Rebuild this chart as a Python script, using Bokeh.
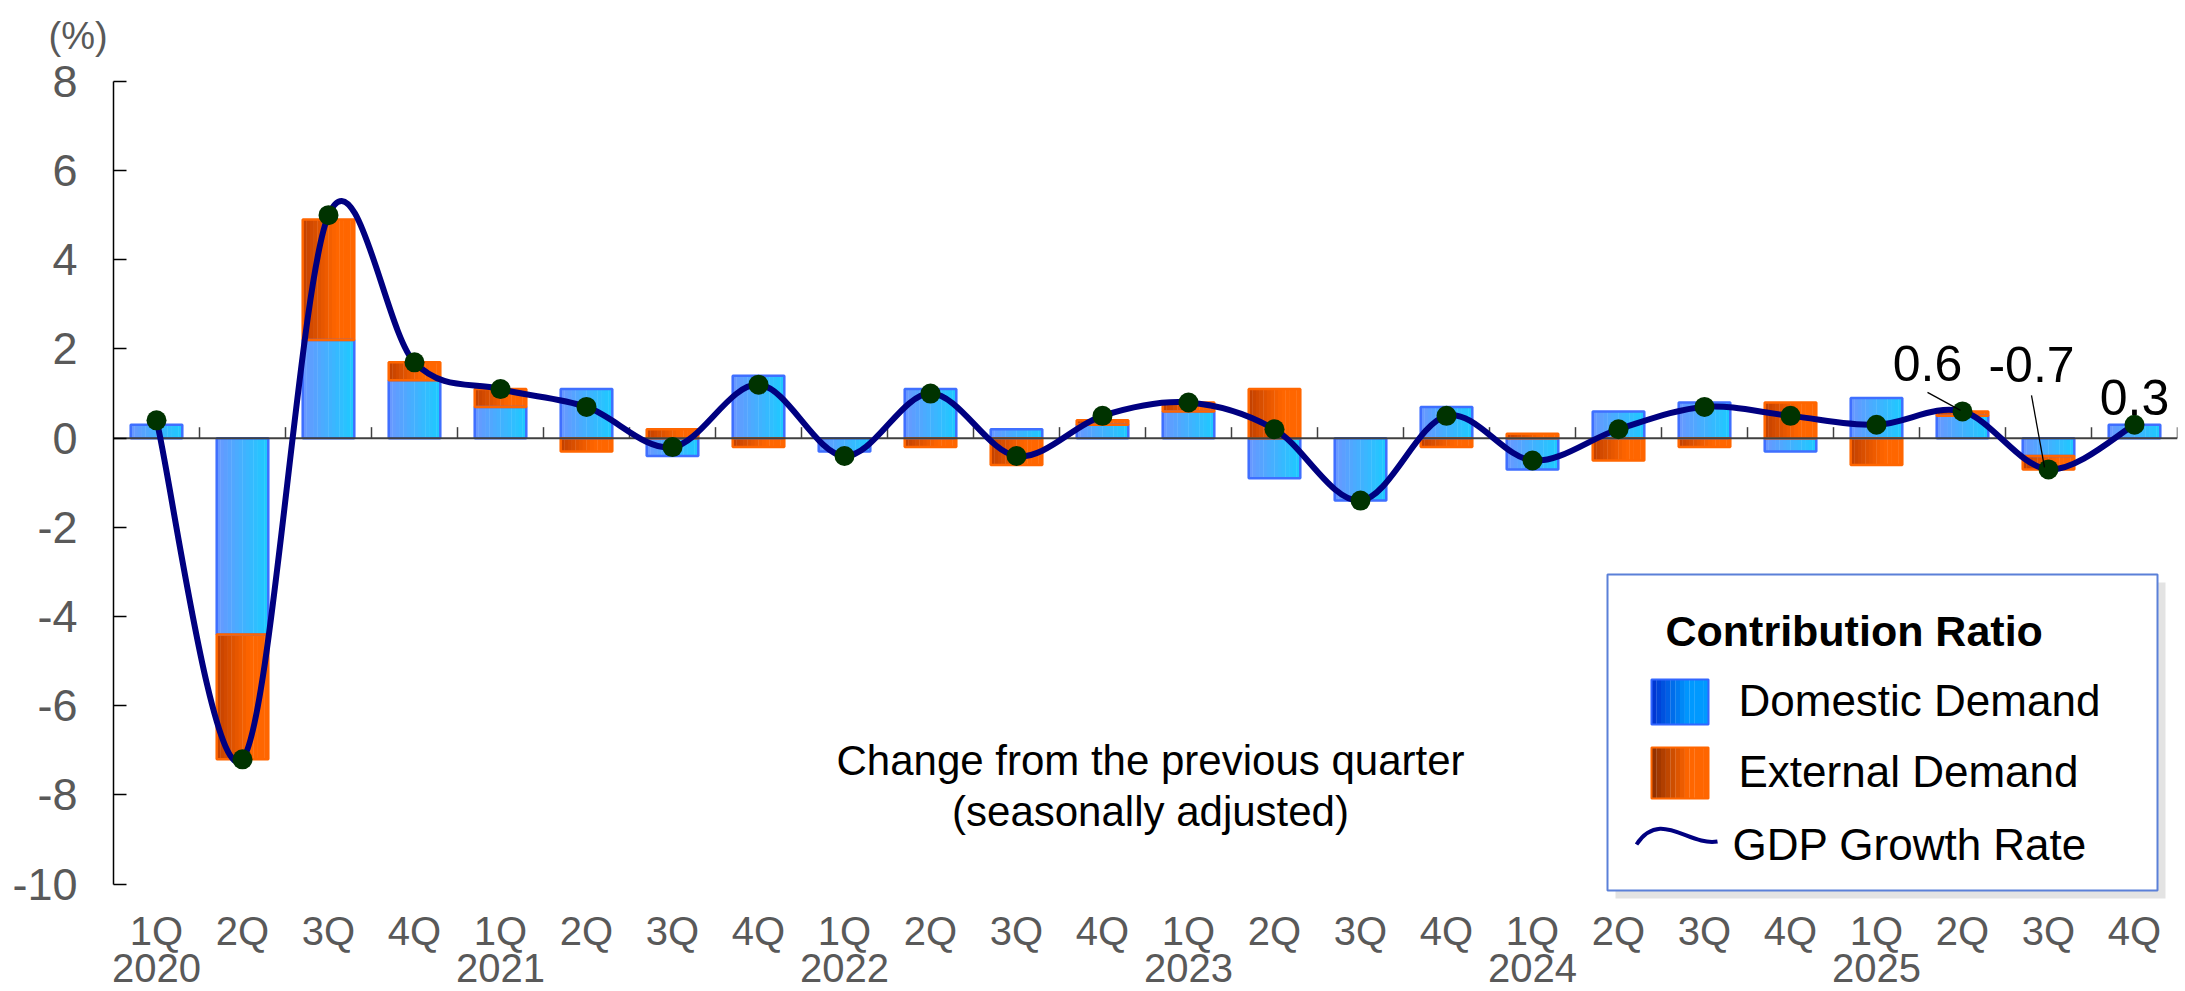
import numpy as np
from bokeh.plotting import figure
from bokeh.models import FixedTicker, Range1d, ColumnDataSource, Title
from bokeh.core.properties import value
from bokeh.embed import file_html
from bokeh.resources import INLINE

# ---------------- data ----------------
quarters = ["1Q", "2Q", "3Q", "4Q"] * 6
years = ["2020", "2021", "2022", "2023", "2024", "2025"]
domestic = [0.3, -4.4, 2.2, 1.3, 0.7, 1.1, -0.4, 1.4, -0.3, 1.1, 0.2, 0.3,
            0.6, -0.9, -1.4, 0.7, -0.7, 0.6, 0.8, -0.3, 0.9, 0.5, -0.4, 0.3]
external = [0.0, -2.8, 2.7, 0.4, 0.4, -0.3, 0.2, -0.2, 0.0, -0.2, -0.6, 0.1,
            0.2, 1.1, 0.0, -0.2, 0.1, -0.5, -0.2, 0.8, -0.6, 0.1, -0.3, 0.0]
gdp = [0.4, -7.2, 5.0, 1.7, 1.1, 0.7, -0.2, 1.2, -0.4, 1.0, -0.4, 0.5,
       0.8, 0.2, -1.4, 0.5, -0.5, 0.2, 0.7, 0.5, 0.3, 0.6, -0.7, 0.3]
y_ticks = [8, 6, 4, 2, 0, -2, -4, -6, -8, -10]
callout_idx = [21, 22, 23]

# ---------------- styling ----------------
FONT = "Liberation Sans"
GRAY = "#595959"
W, H = 2185, 991
FW, FH = 2064, 843
X0, X1 = -0.5, 23.5
Y0, Y1 = -10.5, 8.4
PX = FW / (X1 - X0)
PY = FH / (Y1 - Y0)
LEFT, TOP = 113, 63
REF_X0 = LEFT + 0.5 * PX          # pixel x of category 0
REF_Y0 = TOP + Y1 * PY            # pixel y of value 0


def dxp(px):
    return (px - REF_X0) / PX


def dyp(py):
    return (REF_Y0 - py) / PY


def hex2rgb(h):
    return tuple(int(h[i:i + 2], 16) for i in (1, 3, 5))


def blend(c0, c1, t):
    a, b = hex2rgb(c0), hex2rgb(c1)
    return "#%02x%02x%02x" % tuple(round(a[k] + (b[k] - a[k]) * t) for k in range(3))


p = figure(frame_width=FW, frame_height=FH,
           x_range=Range1d(X0, X1), y_range=Range1d(Y0, Y1),
           output_backend="svg", toolbar_location=None,
           min_border_left=LEFT, min_border_right=W - LEFT - FW,
           min_border_top=TOP, min_border_bottom=H - TOP - FH,
           background_fill_color="white", border_fill_color="white",
           outline_line_color=None)
p.grid.visible = False

# unit label above the y axis
unit = Title(text="(%)", align="left", offset=-65, text_font=FONT,
             text_font_size="38px", text_color=GRAY, text_font_style="normal")
if "standoff" in Title.properties():
    unit.standoff = 14
p.add_layout(unit, "above")

# y axis
ya = p.yaxis[0]
ya.ticker = FixedTicker(ticks=y_ticks)
ya.major_label_overrides = {t: str(t) for t in y_ticks}
ya.bounds = (min(y_ticks), max(y_ticks))
ya.major_tick_in = 13
ya.major_tick_out = 0
ya.minor_tick_line_color = None
ya.axis_line_color = "black"
ya.axis_line_width = 1.5
ya.major_tick_line_color = "black"
ya.major_tick_line_width = 1.5
ya.major_label_text_font = FONT
ya.major_label_text_font_size = "45px"
ya.major_label_text_color = GRAY
ya.major_label_standoff = 36

# x axis (quarters, with the year on a second line under each 1Q)
n = len(gdp)
idx = np.arange(n)
xlabels = {}
for i, q in enumerate(quarters):
    xlabels[i] = q + ("\n" + years[i // 4] if i % 4 == 0 else "")
xa = p.xaxis[0]
xa.ticker = FixedTicker(ticks=list(range(n)))
xa.major_label_overrides = xlabels
xa.axis_line_color = None
xa.major_tick_line_color = None
xa.minor_tick_line_color = None
xa.major_label_text_font = FONT
xa.major_label_text_font_size = "40px"
xa.major_label_text_color = GRAY
xa.major_label_text_line_height = 0.85
xa.major_label_standoff = -4

# ---------------- bars with simulated gradient ----------------
dom = np.array(domestic)
ext = np.array(external)
ext_bottom = np.where(np.sign(ext) == np.sign(dom), dom, 0.0)
ext_top = ext_bottom + ext

NS = 14
BW = 0.6


def gradient_columns(centers, bottoms, tops, c_left, c_right, ramp):
    xs, bs, ts, cs = [], [], [], []
    for c, b, t in zip(centers, bottoms, tops):
        if abs(t - b) < 1e-9:
            continue
        for k in range(NS):
            f = (k + 0.5) / NS
            xs.append(c - BW / 2 + f * BW)
            bs.append(b)
            ts.append(t)
            cs.append(blend(c_left, c_right, min(f / ramp, 1.0)))
    return dict(x=xs, bottom=bs, top=ts, color=cs)


dom_src = ColumnDataSource(gradient_columns(idx, np.zeros(n), dom, "#6a96ff", "#1ccbff", 1.0))
ext_src = ColumnDataSource(gradient_columns(idx, ext_bottom, ext_top, "#c24000", "#ff6600", 0.65))

p.vbar(x="x", bottom="bottom", top="top", width=BW / NS * 1.1, fill_color="color",
       line_color=None, source=dom_src)
p.vbar(x="x", bottom="bottom", top="top", width=BW / NS * 1.1, fill_color="color",
       line_color=None, source=ext_src)

dmask = np.abs(dom) > 1e-9
p.vbar(x=idx[dmask], bottom=0, top=dom[dmask], width=BW, fill_color=None,
       line_color="#3f6fff", line_width=2.5)
emask = np.abs(ext) > 1e-9
p.vbar(x=idx[emask], bottom=ext_bottom[emask], top=ext_top[emask], width=BW,
       fill_color=None, line_color="#ff6600", line_width=2.5)

# zero line and its ticks
p.segment(x0=[X0], y0=[0], x1=[X1], y1=[0], line_color="#404040", line_width=2)
p.segment(x0=idx + 0.5, y0=0, x1=idx + 0.5, y1=11 / PY, line_color="#404040", line_width=1.5)

# ---------------- smoothed GDP line ----------------
g = np.array(gdp, dtype=float)
bx0, by0, bx1, by1, cx0, cy0, cx1, cy1 = [], [], [], [], [], [], [], []
for i in range(n - 1):
    i0 = max(i - 1, 0)
    i3 = min(i + 2, n - 1)
    bx0.append(idx[i]); by0.append(g[i])
    bx1.append(idx[i + 1]); by1.append(g[i + 1])
    cx0.append(idx[i] + (idx[i + 1] - idx[i0]) / 6)
    cy0.append(g[i] + (g[i + 1] - g[i0]) / 6)
    cx1.append(idx[i + 1] - (idx[i3] - idx[i]) / 6)
    cy1.append(g[i + 1] - (g[i3] - g[i]) / 6)
p.bezier(x0=bx0, y0=by0, x1=bx1, y1=by1, cx0=cx0, cy0=cy0, cx1=cx1, cy1=cy1,
         line_color="#000080", line_width=6, line_cap="round")
p.scatter(x=idx, y=g, size=20, fill_color="#003300", line_color=None)

# ---------------- callouts ----------------
# pixel offsets (label centre, leader start, leader end) relative to the point
call_style = {
    21: dict(dx=-35, dy=-48, lead=(-35, -19, -2, -1)),
    22: dict(dx=-17, dy=-105, lead=(-17, -74, -4, -2)),
    23: dict(dx=0, dy=-27, lead=None),
}
for i in callout_idx:
    st = call_style[i]
    p.text(x=[idx[i] + st["dx"] / PX], y=[g[i] - st["dy"] / PY], text=[f"{g[i]:.1f}"],
           text_font=value(FONT), text_font_size="50px", text_color="black",
           text_align="center", text_baseline="middle")
    if st["lead"] is not None:
        a, b, c, d = st["lead"]
        p.segment(x0=[idx[i] + a / PX], y0=[g[i] - b / PY], x1=[idx[i] + c / PX],
                  y1=[g[i] - d / PY], line_color="black", line_width=1.3)

# ---------------- note ----------------
p.text(x=[dxp(1150), dxp(1150)], y=[dyp(760), dyp(811)],
       text=["Change from the previous quarter", "(seasonally adjusted)"],
       text_font=value(FONT), text_font_size="42px", text_color="black",
       text_align="center", text_baseline="middle")

# ---------------- legend ----------------
p.quad(left=[dxp(1615)], right=[dxp(2165)], top=[dyp(582)], bottom=[dyp(898)],
       fill_color="#e3e3e3", line_color=None)
p.quad(left=[dxp(1607)], right=[dxp(2157)], top=[dyp(574)], bottom=[dyp(890)],
       fill_color="white", line_color="#5b80d8", line_width=2)
p.text(x=[dxp(1665)], y=[dyp(630)], text=["Contribution Ratio"],
       text_font=value(FONT), text_font_size="43px", text_font_style="bold",
       text_color="black", text_align="left", text_baseline="middle")


def swatch(l, r, t, b, c_left, c_right, ramp, border):
    m = 12
    lefts, rights, cols = [], [], []
    for k in range(m):
        f0, f1 = k / m, (k + 1) / m
        lefts.append(dxp(l + (r - l) * f0))
        rights.append(dxp(l + (r - l) * f1) + 0.002)
        cols.append(blend(c_left, c_right, min((f0 + f1) / 2 / ramp, 1.0)))
    p.quad(left=lefts, right=rights, top=dyp(t), bottom=dyp(b), fill_color=cols, line_color=None)
    p.quad(left=[dxp(l)], right=[dxp(r)], top=[dyp(t)], bottom=[dyp(b)], fill_color=None,
           line_color=border, line_width=2)


swatch(1651, 1708, 679, 724, "#0030d0", "#0099ff", 0.65, "#3366ff")
swatch(1651, 1708, 747, 798, "#8c2d00", "#ff6600", 0.65, "#ff6600")
p.bezier(x0=[dxp(1636)], y0=[dyp(844)], x1=[dxp(1717)], y1=[dyp(841)],
         cx0=[dxp(1660)], cy0=[dyp(808)], cx1=[dxp(1688)], cy1=[dyp(846)],
         line_color="#000080", line_width=4)
p.text(x=[dxp(1738), dxp(1738), dxp(1732)], y=[dyp(700), dyp(771), dyp(844)],
       text=["Domestic Demand", "External Demand", "GDP Growth Rate"],
       text_font=value(FONT), text_font_size="44px", text_color="black",
       text_align="left", text_baseline="middle")

open("out.html", "w").write(file_html(p, INLINE))
